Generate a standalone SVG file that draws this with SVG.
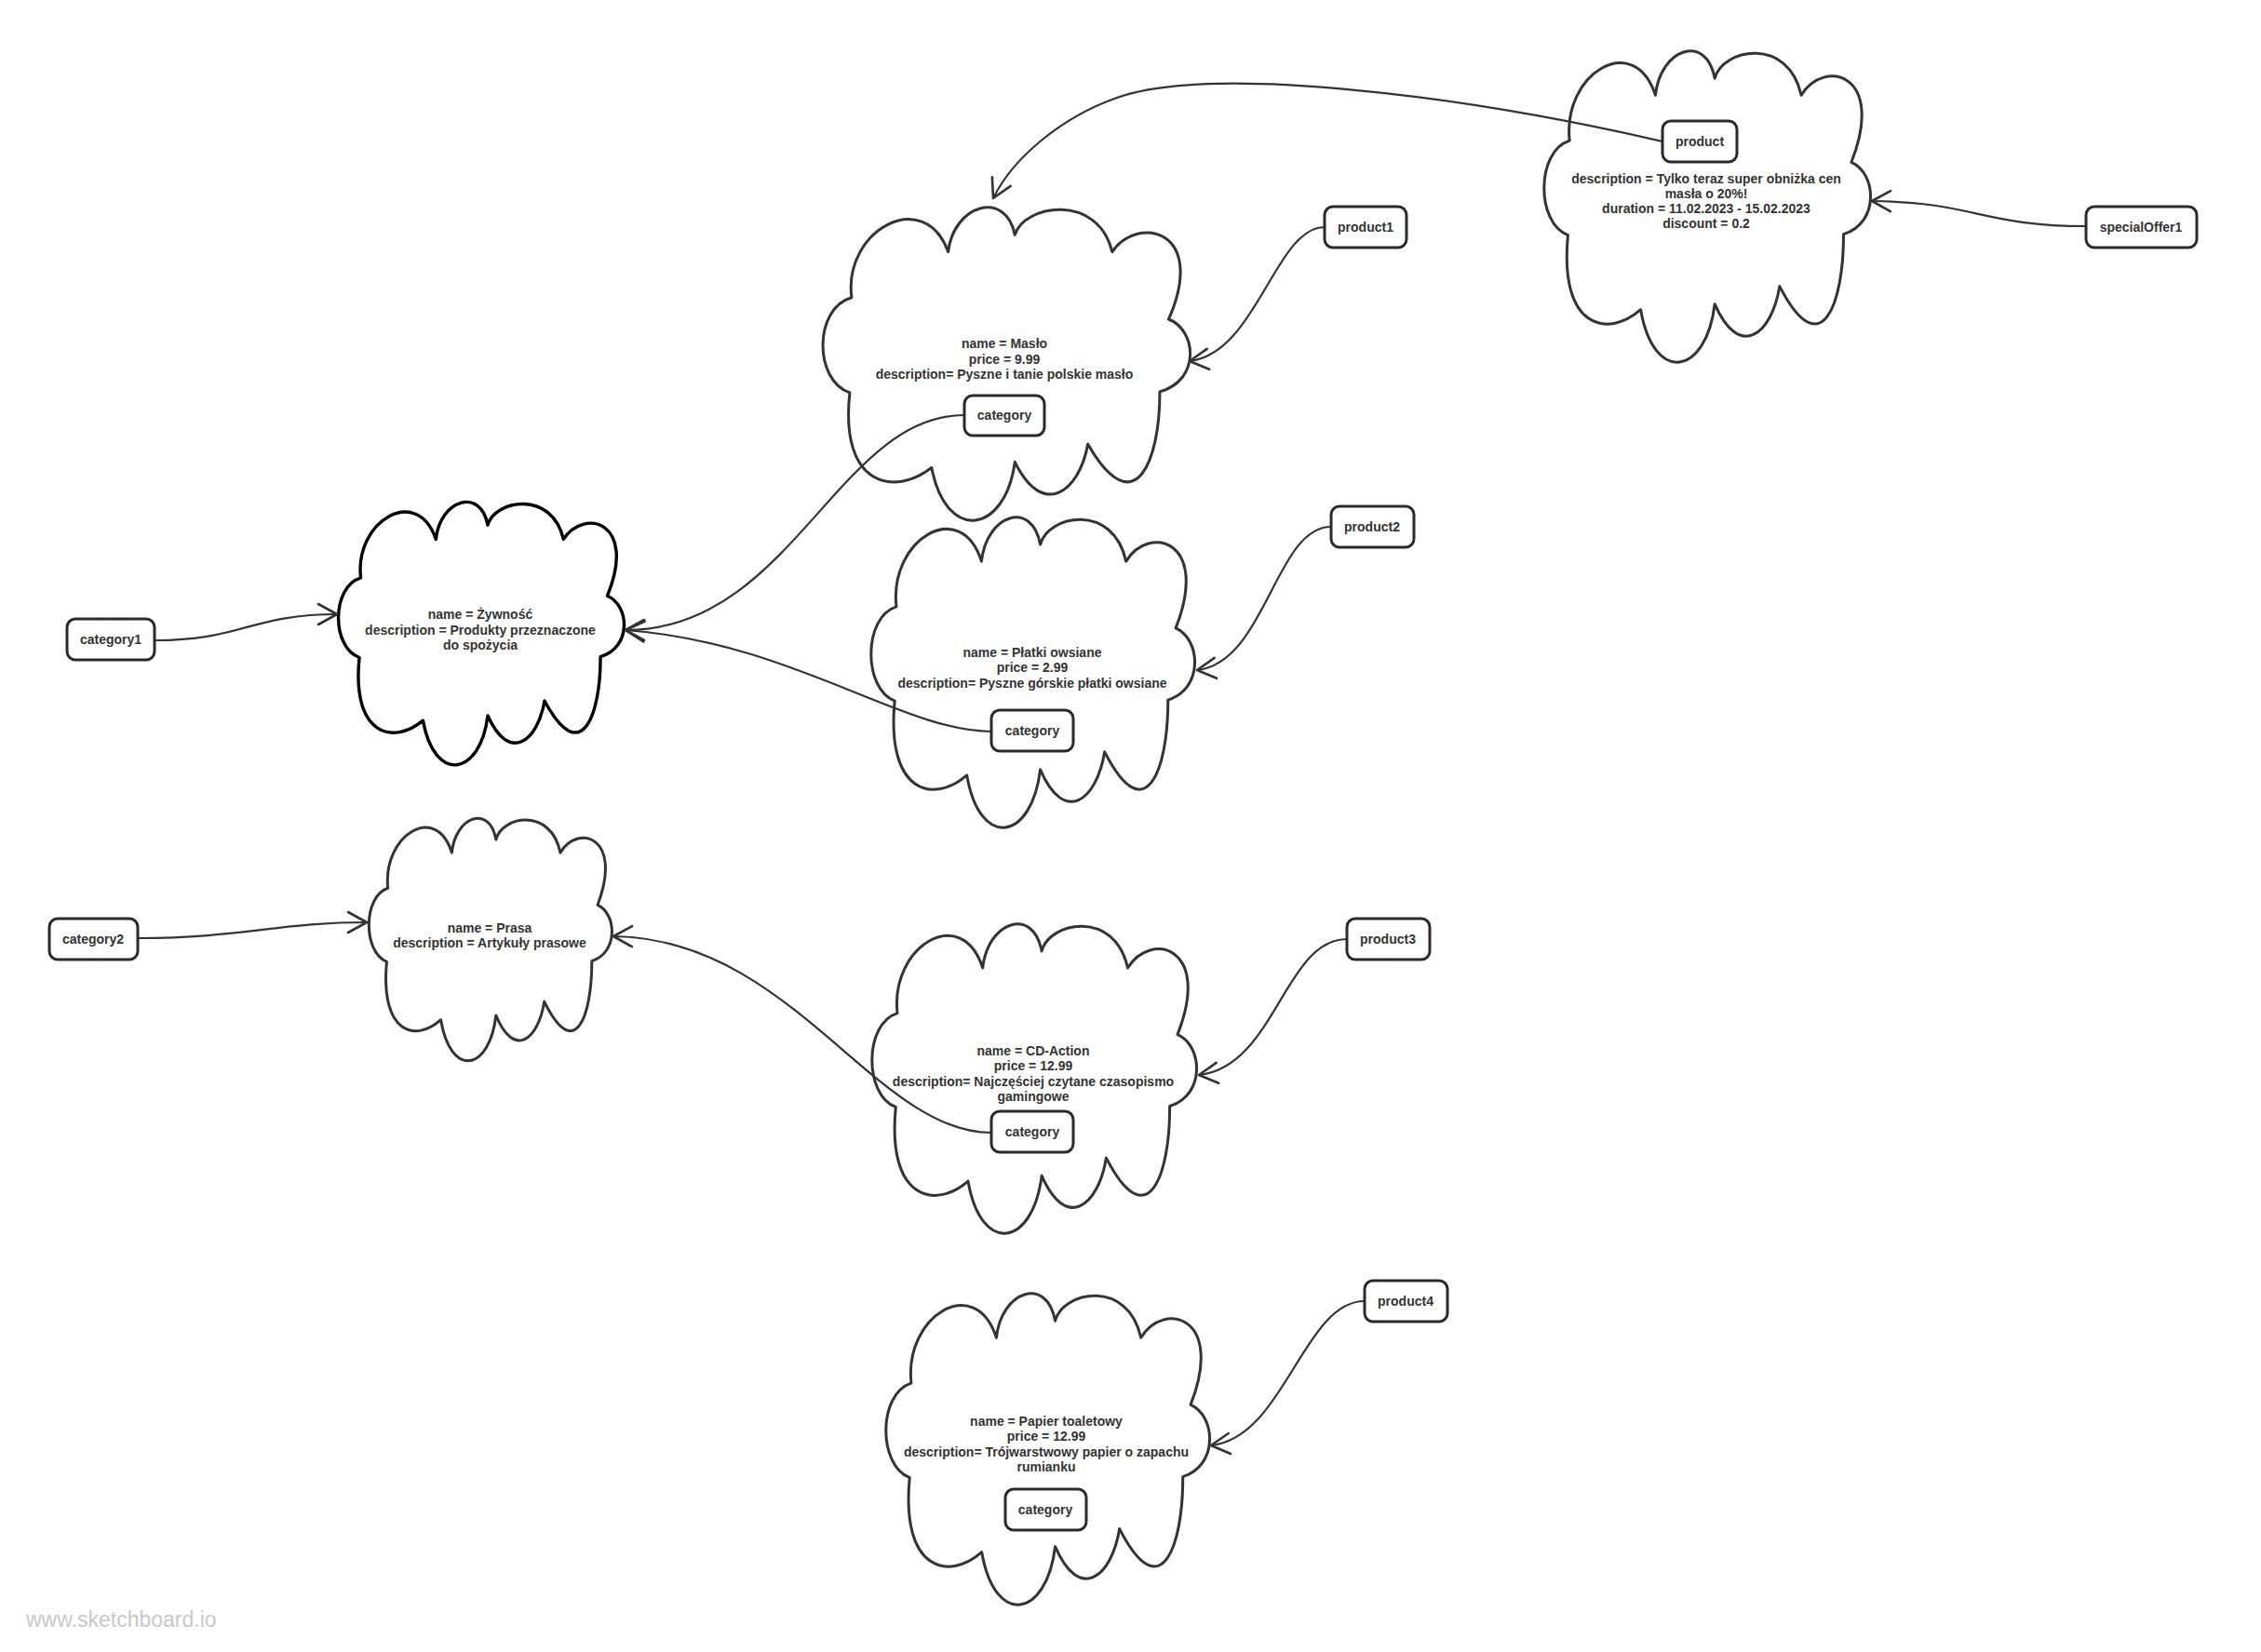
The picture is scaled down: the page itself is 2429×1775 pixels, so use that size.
<svg xmlns="http://www.w3.org/2000/svg" xmlns:xlink="http://www.w3.org/1999/xlink" width="2429" height="1775" viewBox="0 0 2429 1775">
<style>
.cloud{fill:#fff;stroke:#333;stroke-width:3;stroke-linejoin:round}
.cloud.dark{stroke:#000;stroke-width:3.4}
.box{fill:#fff;stroke:#2a2a2a;stroke-width:3}
.t{font-family:"Liberation Sans",Arial,sans-serif;font-weight:bold;font-size:14px;fill:#333;text-anchor:middle}
.conn path{fill:none;stroke:#333;stroke-width:2.2;marker-end:url(#arr)}
.wm{font-family:"Liberation Sans",Arial,sans-serif;font-size:23px;fill:#c8c8c8}
</style>
<defs>
<path id="cloudShape" vector-effect="non-scaling-stroke" d="M83,296 C60,80 280,-60 345,150 C360,0 500,-50 526,96 C550,0 750,-40 790,150 C860,30 1050,80 943,365 C1020,400 1030,560 919,596 C920,820 850,1020 724,763 C700,920 600,1000 526,820 C500,1050 340,1080 300,838 C200,930 50,900 78,599 C-20,560 -20,330 83,296 Z"/>
<marker id="arr" viewBox="0 0 26 26" refX="23" refY="13" markerWidth="26" markerHeight="26" orient="auto" markerUnits="userSpaceOnUse">
<path d="M3,2 L23,13 L3,24" fill="none" stroke="#333" stroke-width="2.6" stroke-linecap="round" stroke-linejoin="round"/>
</marker>
</defs>
<rect width="2429" height="1775" fill="#fff"/>

<g id="specialOfferCloud">
<use xlink:href="#cloudShape" class="cloud" transform="translate(1657,52) scale(0.352,0.335)"/>
<text class="t" x="1833" y="197">description = Tylko teraz super obniżka cen</text>
<text class="t" x="1833" y="213">masła o 20%!</text>
<text class="t" x="1833" y="229">duration = 11.02.2023 - 15.02.2023</text>
<text class="t" x="1833" y="245">discount = 0.2</text>
</g>
<g id="masloCloud">
<use xlink:href="#cloudShape" class="cloud" transform="translate(882,220) scale(0.396,0.337)"/>
<text class="t" x="1079" y="374">name = Masło</text>
<text class="t" x="1079" y="391">price = 9.99</text>
<text class="t" x="1079" y="407">description= Pyszne i tanie polskie masło</text>
</g>
<g id="zywnoscCloud">
<use xlink:href="#cloudShape" class="cloud dark" transform="translate(362,537) scale(0.308,0.283)"/>
<text class="t" x="516" y="665">name = Żywność</text>
<text class="t" x="516" y="682">description = Produkty przeznaczone</text>
<text class="t" x="516" y="698">do spożycia</text>
</g>
<g id="platkiCloud">
<use xlink:href="#cloudShape" class="cloud" transform="translate(934,553) scale(0.349,0.334)"/>
<text class="t" x="1109" y="706">name = Płatki owsiane</text>
<text class="t" x="1109" y="722">price = 2.99</text>
<text class="t" x="1109" y="739">description= Pyszne górskie płatki owsiane</text>
</g>
<g id="prasaCloud">
<use xlink:href="#cloudShape" class="cloud" transform="translate(395,877) scale(0.262,0.261)"/>
<text class="t" x="526" y="1002">name = Prasa</text>
<text class="t" x="526" y="1018">description = Artykuły prasowe</text>
</g>
<g id="cdActionCloud">
<use xlink:href="#cloudShape" class="cloud" transform="translate(935,990) scale(0.350,0.333)"/>
<text class="t" x="1110" y="1134">name = CD-Action</text>
<text class="t" x="1110" y="1150">price = 12.99</text>
<text class="t" x="1110" y="1167">description= Najczęściej czytane czasopismo</text>
<text class="t" x="1110" y="1183">gamingowe</text>
</g>
<g id="papierCloud">
<use xlink:href="#cloudShape" class="cloud" transform="translate(950,1387) scale(0.349,0.335)"/>
<text class="t" x="1124" y="1532">name = Papier toaletowy</text>
<text class="t" x="1124" y="1548">price = 12.99</text>
<text class="t" x="1124" y="1565">description= Trójwarstwowy papier o zapachu</text>
<text class="t" x="1124" y="1581">rumianku</text>
</g>

<g id="connectors" class="conn">
<path d="M2241,243 C2130,243 2120,217 2011,216"/>
<path d="M1786,152 C1560,100 1300,70 1200,105 C1140,126 1088,170 1067,213"/>
<path d="M1423,244 C1370,244 1350,380 1278,388"/>
<path d="M1036,446 C900,446 850,677 672,677"/>
<path d="M1065,786 C970,786 850,690 672,677"/>
<path d="M166,688 C260,688 270,660 362,660"/>
<path d="M148,1008 C260,1008 300,991 394,991"/>
<path d="M1065,1217 C940,1217 850,1008 659,1006"/>
<path d="M1430,566 C1370,566 1360,712 1286,720"/>
<path d="M1447,1009 C1380,1009 1370,1146 1288,1155"/>
<path d="M1466,1398 C1400,1398 1380,1545 1301,1553"/>
</g>

<g id="product">
<rect class="box" x="1786" y="130" width="80" height="44" rx="9"/>
<text class="t" x="1826" y="157">product</text>
</g>
<g id="specialOffer1">
<rect class="box" x="2241" y="222" width="119" height="44" rx="9"/>
<text class="t" x="2300" y="249">specialOffer1</text>
</g>
<g id="product1">
<rect class="box" x="1423" y="222" width="88" height="44" rx="9"/>
<text class="t" x="1467" y="249">product1</text>
</g>
<g id="categoryMaslo">
<rect class="box" x="1036" y="425" width="86" height="43" rx="9"/>
<text class="t" x="1079" y="451">category</text>
</g>
<g id="product2">
<rect class="box" x="1430" y="544" width="89" height="44" rx="9"/>
<text class="t" x="1474" y="571">product2</text>
</g>
<g id="categoryPlatki">
<rect class="box" x="1065" y="763" width="88" height="44" rx="9"/>
<text class="t" x="1109" y="790">category</text>
</g>
<g id="category1">
<rect class="box" x="72" y="665" width="94" height="44" rx="9"/>
<text class="t" x="119" y="692">category1</text>
</g>
<g id="category2">
<rect class="box" x="53" y="987" width="95" height="44" rx="9"/>
<text class="t" x="100" y="1014">category2</text>
</g>
<g id="product3">
<rect class="box" x="1447" y="987" width="89" height="44" rx="9"/>
<text class="t" x="1491" y="1014">product3</text>
</g>
<g id="categoryCD">
<rect class="box" x="1065" y="1194" width="88" height="44" rx="9"/>
<text class="t" x="1109" y="1221">category</text>
</g>
<g id="product4">
<rect class="box" x="1466" y="1376" width="89" height="44" rx="9"/>
<text class="t" x="1510" y="1403">product4</text>
</g>
<g id="categoryPapier">
<rect class="box" x="1080" y="1600" width="87" height="44" rx="9"/>
<text class="t" x="1123" y="1627">category</text>
</g>

<text class="wm" x="28" y="1748">www.sketchboard.io</text>
</svg>
